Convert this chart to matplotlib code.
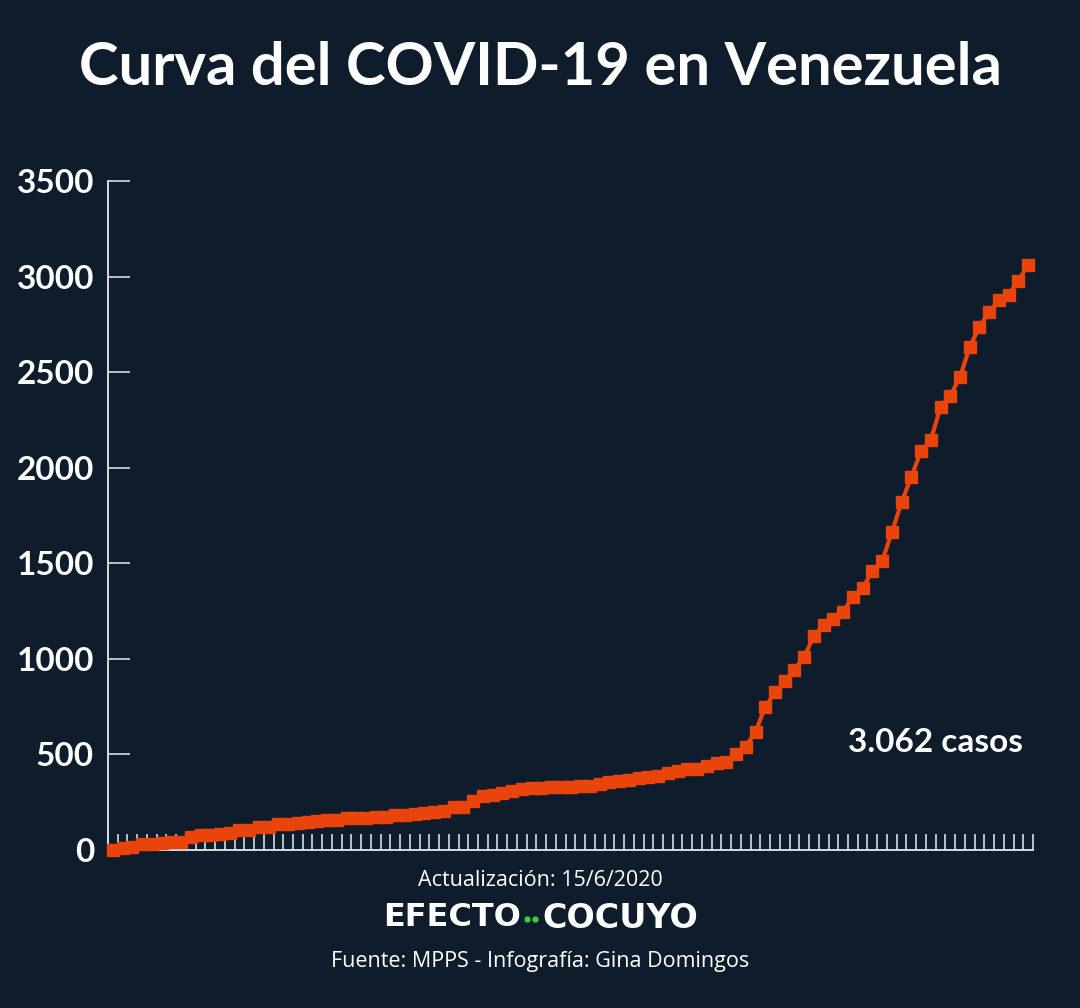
import matplotlib
matplotlib.use("Agg")
import matplotlib.pyplot as plt
from matplotlib.lines import Line2D
import numpy as np

# Daily cumulative COVID-19 cases in Venezuela (13/3/2020 - 15/6/2020)
cases = [2, 10, 17, 33, 33, 36, 42, 42, 70, 77, 77, 84, 91, 107, 107, 119, 119,
         135, 135, 143, 146, 153, 155, 159, 165, 166, 167, 171, 175, 181, 181,
         189, 193, 197, 204, 227, 227, 256, 285, 288, 298, 311, 318, 323, 325,
         329, 329, 331, 333, 335, 345, 357, 361, 367, 379, 381, 388, 402, 414,
         422, 423, 440, 455, 459, 504, 541, 618, 749, 824, 882, 944, 1010, 1121,
         1177, 1211, 1245, 1325, 1370, 1459, 1510, 1662, 1819, 1952, 2087, 2145,
         2316, 2377, 2473, 2632, 2738, 2814, 2879, 2904, 2978, 3062]
y_ticks = [0, 500, 1000, 1500, 2000, 2500, 3000, 3500]
title = "Curva del COVID-19 en Venezuela"
annotation = "3.062 casos"
update_text = "Actualización: 15/6/2020"
brand_left, brand_right = "EFECTO", "COCUYO"
source_text = "Fuente: MPPS - Infografía: Gina Domingos"

BG = "#0e1c2b"
LINE = "#e8440b"
AX = "#d5dbe2"
GREEN = "#35d23a"

fig = plt.figure(figsize=(10.8, 10.08), dpi=100, facecolor=BG)
ax = fig.add_axes([108/1080, 1-850/1008, (1033-108)/1080, (850-181)/1008])
ax.set_facecolor(BG)

x = np.arange(len(cases))
ax.plot(x, cases, color=LINE, lw=3.0, marker="s", ms=8.5, mfc=LINE, mec=LINE,
        solid_joinstyle="miter", zorder=3, clip_on=False)

ax.set_xlim(-0.5, len(cases) - 0.5)
ax.set_ylim(0, 3500)
ax.set_xticks(np.arange(len(cases) + 1) - 0.5)
ax.set_xticklabels([])
ax.set_yticks(y_ticks)
ax.set_yticklabels([str(v) for v in y_ticks], fontfamily="Lato",
                   fontweight="bold", fontsize=24, color="white")
ax.tick_params(axis="x", direction="in", length=11.5, width=1.2, colors=AX)
ax.tick_params(axis="y", direction="in", length=16, width=1.2, colors=AX, pad=10)
for lab in ax.get_yticklabels():
    lab.set_color("white")
for s in ["top", "right"]:
    ax.spines[s].set_visible(False)
for s in ["left", "bottom"]:
    ax.spines[s].set_color(AX)
    ax.spines[s].set_linewidth(1.4)

fig.text(540/1080, 1-68/1008, title, ha="center", va="center", color="white",
         fontfamily="Lato", fontweight="bold", fontsize=43)
fig.text(935/1080, 1-742/1008, annotation, ha="center", va="center",
         color="white", fontfamily="Lato", fontweight="bold", fontsize=24)
fig.text(540/1080, 1-880/1008, update_text, ha="center", va="center",
         color="white", fontfamily="Open Sans", fontsize=15.5)
fig.text(521/1080, 1-918/1008, brand_left, ha="right", va="center",
         color="white", fontfamily="DejaVu Sans", fontweight="bold", fontsize=23)
fig.text(542/1080, 1-918/1008, brand_right, ha="left", va="center",
         color="white", fontfamily="DejaVu Sans", fontweight="bold", fontsize=24)
fig.add_artist(Line2D([527/1080, 535/1080], [1-919/1008, 1-919/1008],
                      transform=fig.transFigure, ls="none", marker="o", ms=3.5,
                      color=GREEN, mec=GREEN))
fig.text(540/1080, 1-962/1008, source_text, ha="center", va="center",
         color="white", fontfamily="Open Sans", fontsize=15.5)

fig.savefig("out.png", dpi=100, facecolor=BG)
